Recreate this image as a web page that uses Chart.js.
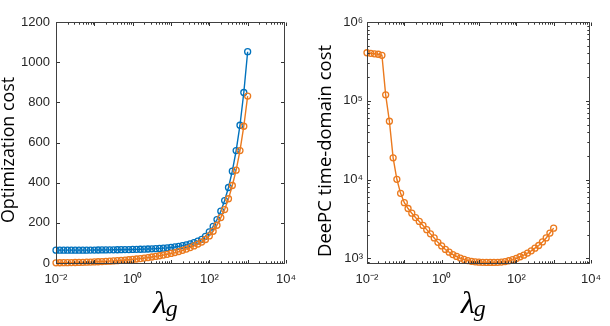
<!DOCTYPE html>
<html><head><meta charset="utf-8">
<script src="https://cdn.jsdelivr.net/npm/chart.js@4.4.0/dist/chart.umd.min.js"></script>
<style>
html,body{margin:0;padding:0;background:#fff;}
#wrap{position:relative;width:610px;height:326px;overflow:hidden;}
canvas{position:absolute;top:0;}
</style></head><body>
<div id="wrap">
<canvas id="c1" width="305" height="326" style="left:0"></canvas>
<canvas id="c2" width="305" height="326" style="left:305px"></canvas>
</div>
<script>
// ---- data ----
const lambdaG = [
 0.01, 0.01259, 0.01585, 0.01995, 0.02512, 0.03162, 0.03981, 0.05012, 0.06310, 0.07943,
 0.1, 0.1259, 0.1585, 0.1995, 0.2512, 0.3162, 0.3981, 0.5012, 0.6310, 0.7943,
 1, 1.259, 1.585, 1.995, 2.512, 3.162, 3.981, 5.012, 6.310, 7.943,
 10, 12.59, 15.85, 19.95, 25.12, 31.62, 39.81, 50.12, 63.10, 79.43,
 100, 125.9, 158.5, 199.5, 251.2, 316.2, 398.1, 501.2, 631.0, 794.3,
 1000];
const optCostBlue = [
 64, 64, 64, 64, 64, 64, 64, 64, 64, 64.3,
 64.5, 64.7, 65, 65.2, 65.5, 65.7, 66, 66.3, 66.6, 67,
 67.4, 67.9, 68.4, 69, 69.7, 70.5, 71.5, 72.6, 74, 75.5,
 77.5, 80, 83, 86.5, 90.5, 95.5, 101.5, 109, 118, 133,
 155, 182, 216, 258, 311, 376, 457, 560, 686, 849,
 1052];
const optCostOrange = [
 1, 1.2, 1.4, 1.7, 2, 2.4, 2.8, 3.3, 3.9, 4.6,
 5.4, 6.2, 7.1, 8.1, 9.2, 10.4, 11.7, 13.1, 14.6, 16.2,
 18, 20, 22, 24.4, 27, 29.8, 32.8, 36, 39.5, 43.3,
 47.5, 52, 57, 63, 69.5, 77, 85, 94, 104, 117,
 135, 158, 188, 226, 266, 320, 386, 462, 560, 681,
 831];
const deepcCost = [
 407000, 400000, 395000, 390000, 378000, 119000, 55000, 18900, 10100, 6700,
 5100, 4300, 3750, 3300, 2950, 2620, 2320, 2050, 1820, 1600,
 1440, 1300, 1200, 1120, 1060, 1010, 970, 940, 918, 905,
 897, 893, 891, 890, 890, 892, 900, 912, 935, 965,
 1000, 1050, 1100, 1170, 1250, 1350, 1460, 1620, 1820, 2100,
 2420];
const xTickValues = [0.01, 1, 100, 10000];
const xTickLabels = ['10\u207B\u00B2', '10\u2070', '10\u00B2', '10\u2074'];
const leftYTicks = [0, 200, 400, 600, 800, 1000, 1200];
const rightYTickValues = [1000, 10000, 100000, 1000000];
const rightYTickLabels = ['10\u00B3', '10\u2074', '10\u2075', '10\u2076'];
const leftYTitle = 'Optimization cost';
const rightYTitle = 'DeePC time-domain cost';
const xTitleMain = '\u03BB';
const xTitleSub = 'g';

// ---- style ----
const BLUE = '#0072BD', ORANGE = '#EB7A1E', AXIS = '#262626';
const TICKFONT = {family: "'Liberation Sans', Arial, sans-serif", size: 13};

function logMinor(min, max) {
  const out = [];
  for (let e = Math.floor(Math.log10(min)); e <= Math.ceil(Math.log10(max)); e++) {
    for (let m = 1; m <= 9; m++) {
      const v = m * Math.pow(10, e);
      if (v >= min * 0.999 && v <= max * 1.001) out.push({v, major: m === 1});
    }
  }
  return out;
}

function framePlugin(cfg) {
  return {
    id: 'frame',
    afterDraw(chart) {
      const ctx = chart.ctx, a = chart.chartArea;
      const xs = chart.scales.x, ys = chart.scales.y;
      const L = Math.floor(a.left) + 0.5, R = Math.floor(a.right) - 0.5;
      const T = Math.floor(a.top) + 0.5, B = Math.floor(a.bottom) + 0.5;
      ctx.save();
      ctx.strokeStyle = '#333333'; ctx.lineWidth = 1;
      ctx.beginPath();
      logMinor(xs.min, xs.max).forEach(t => {
        const p = Math.round(xs.getPixelForValue(t.v)) + 0.5;
        const len = t.major ? 3.5 : 2.2;
        ctx.moveTo(p, B); ctx.lineTo(p, B - len);
        ctx.moveTo(p, T); ctx.lineTo(p, T + len);
      });
      const yt = cfg.yLog ? logMinor(ys.min, ys.max) : leftYTicks.map(v => ({v, major: true}));
      yt.forEach(t => {
        const p = Math.round(ys.getPixelForValue(t.v)) + 0.5;
        const len = t.major ? 3.5 : 2.2;
        ctx.moveTo(L, p); ctx.lineTo(L + len, p);
        ctx.moveTo(R, p); ctx.lineTo(R - len, p);
      });
      ctx.stroke();
      ctx.strokeStyle = '#404040';
      ctx.strokeRect(L, T, R - L, B - T);
      // y-axis title
      ctx.fillStyle = '#000';
      ctx.save();
      ctx.translate(cfg.yTitleX, cfg.yTitleY);
      ctx.rotate(-Math.PI / 2);
      ctx.font = "18px 'Open Sans', sans-serif";
      const mw = ctx.measureText(cfg.yTitle).width;
      ctx.scale(cfg.yTitleWidth / mw, 1);
      ctx.textAlign = 'center'; ctx.textBaseline = 'middle';
      ctx.fillText(cfg.yTitle, 0, 0);
      ctx.restore();
      // x-axis title  lambda_g
      const cx = (a.left + a.right) / 2 - 18;
      ctx.textAlign = 'left'; ctx.textBaseline = 'alphabetic';
      ctx.font = "italic 32px 'Liberation Serif', 'Times New Roman', serif";
      ctx.fillText(xTitleMain, cx, 313);
      const w = ctx.measureText(xTitleMain).width;
      ctx.font = "italic 24px 'Liberation Serif', 'Times New Roman', serif";
      ctx.fillText(xTitleSub, cx + w - 1, 316);
      ctx.restore();
    }
  };
}

function seriesDS(vals, color, order) {
  return {
    data: lambdaG.map((x, i) => ({x, y: vals[i]})),
    borderColor: color, borderWidth: 1.4,
    pointRadius: 3, pointHoverRadius: 3, pointStyle: 'circle',
    pointBorderColor: color, pointBackgroundColor: 'rgba(0,0,0,0)', pointBorderWidth: 1.3,
    tension: 0, clip: false, order
  };
}

function xScale() {
  return {
    type: 'logarithmic', min: 0.01, max: 10000,
    grid: {display: false, drawTicks: false}, border: {display: false},
    afterBuildTicks: s => { s.ticks = xTickValues.map(v => ({value: v})); },
    afterFit: s => { s.height = 63; },
    ticks: {
      autoSkip: false, maxRotation: 0, padding: 9, color: AXIS, font: TICKFONT,
      callback: v => { const i = xTickValues.indexOf(v); return i >= 0 ? xTickLabels[i] : ''; }
    }
  };
}

const common = {
  responsive: false, animation: false, devicePixelRatio: 1,
  plugins: {legend: {display: false}, tooltip: {enabled: false}},
  events: []
};

new Chart(document.getElementById('c1'), {
  type: 'line',
  data: {datasets: [seriesDS(optCostBlue, BLUE, 1), seriesDS(optCostOrange, ORANGE, 0)]},
  options: Object.assign({}, common, {
    layout: {padding: {top: 22, right: 19, left: 0, bottom: 0}},
    scales: {
      x: xScale(),
      y: {
        type: 'linear', min: 0, max: 1200,
        grid: {display: false, drawTicks: false}, border: {display: false},
        afterBuildTicks: s => { s.ticks = leftYTicks.map(v => ({value: v})); },
        afterFit: s => { s.width = 56; },
        ticks: {padding: 6, color: AXIS, font: TICKFONT, callback: v => String(v)}
      }
    }
  }),
  plugins: [framePlugin({yLog: false, yTitle: leftYTitle, yTitleWidth: 146, yTitleX: 9, yTitleY: 150})]
});

new Chart(document.getElementById('c2'), {
  type: 'line',
  data: {datasets: [seriesDS(deepcCost, ORANGE, 0)]},
  options: Object.assign({}, common, {
    layout: {padding: {top: 22, right: 12, left: 0, bottom: 0}},
    scales: {
      x: xScale(),
      y: {
        type: 'logarithmic', min: 875, max: 1000000,
        grid: {display: false, drawTicks: false}, border: {display: false},
        afterBuildTicks: s => { s.ticks = rightYTickValues.map(v => ({value: v})); },
        afterFit: s => { s.width = 62; },
        ticks: {
          padding: 4, color: AXIS, font: TICKFONT,
          callback: v => { const i = rightYTickValues.indexOf(v); return i >= 0 ? rightYTickLabels[i] : ''; }
        }
      }
    }
  }),
  plugins: [framePlugin({yLog: true, yTitle: rightYTitle, yTitleWidth: 212, yTitleX: 20.5, yTitleY: 151})]
});
</script>
</body></html>
